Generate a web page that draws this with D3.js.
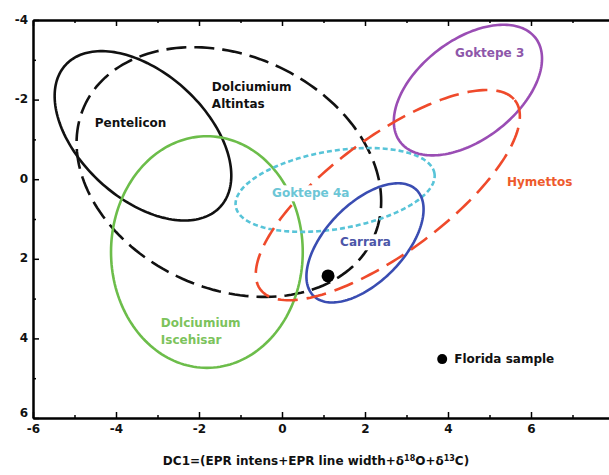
<!DOCTYPE html>
<html>
<head>
<meta charset="utf-8">
<script src="https://cdn.jsdelivr.net/npm/d3@7"></script>
<style>
  body { margin: 0; background: #fff; }
  svg { display: block; font-family: "DejaVu Sans", Verdana, sans-serif; font-weight: bold; }
</style>
</head>
<body>
<div id="chart"></div>
<script>
// axis ticks
const xTicks = [-6, -4, -2, 0, 2, 4, 6, 8];
const xMinor = [-5, -3, -1, 1, 3, 5, 7];
const yTicks = [-4, -2, 0, 2, 4, 6];
const yMinor = [-3, -1, 1, 3, 5];

// confidence ellipses (data units, tilt in degrees)
const groups  = ['Pentelicon', 'Dolciumium Altintas', 'Dolciumium Iscehisar', 'Goktepe 4a', 'Carrara', 'Goktepe 3', 'Hymettos'];
const centerX = [-3.35, -1.28, -1.81, 1.28, 2.0, 4.48, 2.55];
const centerY = [-1.09, -0.18, 1.83, 0.27, 1.6, -2.24, 0.4];
const semiA   = [2.58, 3.86, 2.31, 2.43, 1.82, 2.09, 3.88];
const semiB   = [1.55, 2.90, 2.91, 0.98, 0.96, 1.23, 1.43];
const tilt    = [45, 28, 0, -10, -48, -40, -38];

// group labels
const labelLines = [['Pentelicon'], ['Dolciumium', 'Altintas'], ['Dolciumium', 'Iscehisar'], ['Goktepe 4a'], ['Carrara'], ['Goktepe 3'], ['Hymettos']];
const labelX = [-4.51, -1.69, -2.92, -0.24, 1.40, 4.17, 5.42];
const labelY = [-1.41, -2.32, 3.61, 0.35, 1.58, -3.17, 0.07];

// Florida sample
const sampleX = [1.11];
const sampleY = [2.43];
const legendX = [3.86];
const legendY = [4.52];

const style = {
  'Pentelicon':           { stroke: '#111', dash: null, text: '#111' },
  'Dolciumium Altintas':  { stroke: '#111', dash: '20,8', text: '#111' },
  'Dolciumium Iscehisar': { stroke: '#6cbd4a', dash: null, text: '#7cc35c' },
  'Goktepe 4a':           { stroke: '#58c4d8', dash: '5,3', text: '#6cc6d6' },
  'Carrara':              { stroke: '#3a4db2', dash: null, text: '#4c56a8' },
  'Goktepe 3':            { stroke: '#9a4db4', dash: null, text: '#8e57aa' },
  'Hymettos':             { stroke: '#ef4a2b', dash: '20,9', text: '#ee5a2c' }
};

const width = 609, height = 475;
const x = d3.scaleLinear().domain([-6, 8]).range([33, 614]);
const y = d3.scaleLinear().domain([-4, 6]).range([20, 418]);
const plain = d => String(d); // hyphen minus, as in the original

const svg = d3.select('#chart').append('svg')
  .attr('width', width)
  .attr('height', height);

// ellipses
const ellipsePoints = (i) => {
  const phi = tilt[i] * Math.PI / 180;
  return d3.range(0, 180).map((k) => {
    const t = k / 180 * 2 * Math.PI;
    const dx = semiA[i] * Math.cos(t);
    const dy = semiB[i] * Math.sin(t);
    return [centerX[i] + dx * Math.cos(phi) - dy * Math.sin(phi),
            centerY[i] + dx * Math.sin(phi) + dy * Math.cos(phi)];
  });
};
const line = d3.line().x(d => x(d[0])).y(d => y(d[1])).curve(d3.curveLinearClosed);

svg.append('g')
  .attr('fill', 'none')
  .selectAll('path')
  .data(groups)
  .join('path')
  .attr('d', (d, i) => line(ellipsePoints(i)))
  .attr('stroke', d => style[d].stroke)
  .attr('stroke-width', 2.6)
  .attr('stroke-dasharray', d => style[d].dash);

// labels with white boxes
const gLabel = svg.append('g').attr('font-size', 12);
groups.forEach((g, i) => {
  const lg = gLabel.append('g');
  const txt = lg.append('text')
    .attr('fill', style[g].text)
    .attr('x', x(labelX[i]))
    .attr('y', y(labelY[i]))
    .attr('dy', '0.35em');
  labelLines[i].forEach((l, j) => {
    txt.append('tspan')
      .attr('x', x(labelX[i]))
      .attr('dy', j === 0 ? '0.35em' : '1.4em')
      .text(l);
  });
  const bb = txt.node().getBBox();
  lg.insert('rect', 'text')
    .attr('x', bb.x - 2).attr('y', bb.y - 1)
    .attr('width', bb.width + 4).attr('height', bb.height + 2)
    .attr('fill', '#fff');
});

// sample point
svg.append('g')
  .selectAll('circle')
  .data(sampleX)
  .join('circle')
  .attr('cx', d => x(d))
  .attr('cy', (d, i) => y(sampleY[i]))
  .attr('r', 6.5)
  .attr('fill', '#000');

// legend
svg.append('circle')
  .attr('cx', x(legendX[0]))
  .attr('cy', y(legendY[0]))
  .attr('r', 5)
  .attr('fill', '#000');
svg.append('text')
  .attr('x', x(legendX[0]) + 12)
  .attr('y', y(legendY[0]))
  .attr('dy', '0.35em')
  .attr('font-size', 12)
  .attr('fill', '#111')
  .text('Florida sample');

// axes, ticks pointing inward
const styleAxis = (g) => {
  g.select('.domain').attr('stroke', '#000').attr('stroke-width', 2);
  g.selectAll('.tick line').attr('stroke', '#000').attr('stroke-width', 1.5);
  g.selectAll('.tick text').attr('fill', '#111').attr('font-size', 12).attr('font-weight', 'bold')
    .attr('font-family', '"DejaVu Sans", Verdana, sans-serif');
};

svg.append('g')
  .attr('transform', `translate(0,${y(6)})`)
  .call(d3.axisBottom(x).tickValues(xMinor).tickSize(-3).tickSizeOuter(0).tickFormat(''))
  .call(styleAxis);
svg.append('g')
  .attr('transform', `translate(0,${y(6)})`)
  .call(d3.axisBottom(x).tickValues(xTicks).tickSize(-6).tickSizeOuter(0).tickPadding(6).tickFormat(plain))
  .call(styleAxis);

svg.append('g')
  .attr('transform', `translate(0,${y(-4)})`)
  .call(d3.axisTop(x).tickValues(xMinor).tickSize(-3).tickSizeOuter(0).tickFormat(''))
  .call(styleAxis);
svg.append('g')
  .attr('transform', `translate(0,${y(-4)})`)
  .call(d3.axisTop(x).tickValues(xTicks).tickSize(-6).tickSizeOuter(0).tickFormat(''))
  .call(styleAxis);

svg.append('g')
  .attr('transform', `translate(${x(-6)},0)`)
  .call(d3.axisLeft(y).tickValues(yMinor).tickSize(-3).tickSizeOuter(0).tickFormat(''))
  .call(styleAxis);
svg.append('g')
  .attr('transform', `translate(${x(-6)},0)`)
  .call(d3.axisLeft(y).tickValues(yTicks).tickSize(-6).tickSizeOuter(0).tickPadding(5).tickFormat(plain))
  .call(styleAxis)
  .call(g => g.selectAll('.tick text').attr('dy', d => d === 6 ? '-0.1em' : '0.25em'));

// x axis title
const title = svg.append('text')
  .attr('x', 316)
  .attr('y', 465)
  .attr('text-anchor', 'middle')
  .attr('font-size', 12)
  .attr('fill', '#111');
title.append('tspan').text('DC1=(EPR intens+EPR line width+δ');
title.append('tspan').attr('font-size', 8).attr('dy', -4).text('18');
title.append('tspan').attr('dy', 4).text('O+δ');
title.append('tspan').attr('font-size', 8).attr('dy', -4).text('13');
title.append('tspan').attr('dy', 4).text('C)');
</script>
</body>
</html>
